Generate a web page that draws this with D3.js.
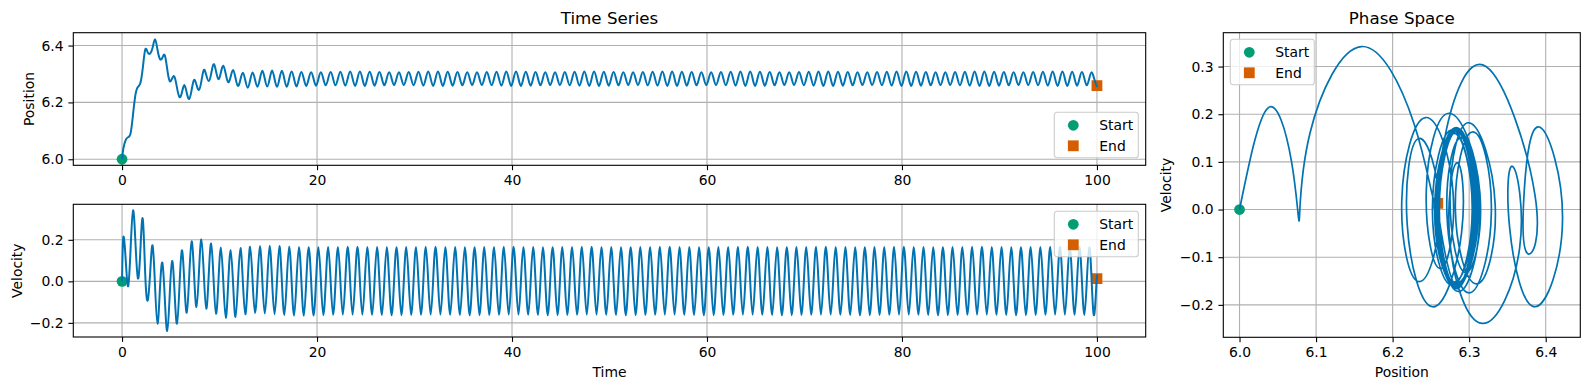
<!DOCTYPE html>
<meta charset="utf-8">
<style>
body{ margin:0; background:#fff; }
text{ font-family:"DejaVu Sans", sans-serif; fill:#000; }
</style>
<body>
<script src="https://d3js.org/d3.v7.min.js"></script>
<script>

// samples are taken every quarter cycle, starting at t0
var t0 = 0.13, dt = 0.2502;

// first 14 cycles, one value per quarter cycle
var transientPos = [6.037,6.068,6.078,6.092, 6.159,6.228,6.255,6.268, 6.322,6.386,6.376,6.372,
  6.392,6.422,6.386,6.353, 6.357,6.366,6.317,6.275, 6.284,6.290,6.252,6.219,
  6.234,6.261,6.234,6.212, 6.243,6.279,6.262,6.244, 6.274,6.314,6.296,6.275,
  6.300,6.334,6.310,6.282, 6.305,6.329,6.300,6.271, 6.290,6.314,6.286,6.258,
  6.280,6.304,6.278,6.252, 6.278,6.305,6.280,6.255];
var transientVel = [0.213,0.100,-0.023,0.160, 0.342,0.180,0.014,0.150, 0.300,0.030,-0.092,0.040,
  0.173,-0.020,-0.204,-0.040, 0.090,-0.080,-0.239,-0.070, 0.098,-0.050,-0.204,-0.030,
  0.149,0.000,-0.151,0.020, 0.193,0.035,-0.124,0.040, 0.202,0.035,-0.132,0.025,
  0.182,0.010,-0.156,0.000, 0.163,-0.005,-0.175,-0.010, 0.151,-0.010,-0.172,-0.005,
  0.160,0.000,-0.159,0.000, 0.167,0.000,-0.152,0.000];

// steady part, one value per cycle
var cycVelMax = [.170,.172,.170,.168,.166,.164,.164,.165,.166,.167,
  .167,.166,.165,.164,.164,.165,.166,.167,.167,.166,
  .165,.164,.164,.165,.166,.167,.167,.166,.165,.164,
  .164,.165,.166,.167,.167,.166,.165,.164,.164,.165,
  .166,.167,.167,.166,.165,.164,.164,.165,.166,.167,
  .167,.166,.165,.164,.164,.165,.166,.167,.167,.166,
  .165,.164,.164,.165,.166,.167,.167,.166,.165,.164,
  .164,.165,.166,.167,.167,.166,.165,.164,.164,.165,
  .166,.167,.167,.166,.165,.164];
var cycVelMin = [-.155,-.158,-.162,-.165,-.166,-.165,-.163,-.161,-.160,-.160,
  -.160,-.161,-.162,-.163,-.163,-.162,-.161,-.160,-.160,-.161,
  -.162,-.163,-.163,-.162,-.161,-.160,-.160,-.161,-.162,-.163,
  -.163,-.162,-.161,-.160,-.160,-.161,-.162,-.163,-.163,-.162,
  -.161,-.160,-.160,-.161,-.162,-.163,-.163,-.162,-.161,-.160,
  -.160,-.161,-.162,-.163,-.163,-.162,-.161,-.160,-.160,-.161,
  -.162,-.163,-.163,-.162,-.161,-.160,-.160,-.161,-.162,-.163,
  -.163,-.162,-.161,-.160,-.160,-.161,-.162,-.163,-.163,-.162,
  -.161,-.160,-.160,-.161,-.162,-.163];
var cycPosMax = [6.311,6.312,6.311,6.309,6.307,6.306,6.306,6.307,6.308,6.309,
  6.309,6.308,6.307,6.306,6.306,6.307,6.308,6.309,6.309,6.308,
  6.307,6.306,6.306,6.307,6.308,6.309,6.309,6.308,6.307,6.306,
  6.306,6.307,6.308,6.309,6.309,6.308,6.307,6.306,6.306,6.307,
  6.308,6.309,6.309,6.308,6.307,6.306,6.306,6.307,6.308,6.309,
  6.309,6.308,6.307,6.306,6.306,6.307,6.308,6.309,6.309,6.308,
  6.307,6.306,6.306,6.307,6.308,6.309,6.309,6.308,6.307,6.306,
  6.306,6.307,6.308,6.309,6.309,6.308,6.307,6.306,6.306,6.307,
  6.308,6.309,6.309,6.308,6.307,6.306];
var cycPosMin = [6.256,6.255,6.255,6.256,6.258,6.259,6.260,6.260,6.259,6.258,
  6.258,6.259,6.260,6.261,6.261,6.260,6.259,6.258,6.258,6.259,
  6.260,6.261,6.261,6.260,6.259,6.258,6.258,6.259,6.260,6.261,
  6.261,6.260,6.259,6.258,6.258,6.259,6.260,6.261,6.261,6.260,
  6.259,6.258,6.258,6.259,6.260,6.261,6.261,6.260,6.259,6.258,
  6.258,6.259,6.260,6.261,6.261,6.260,6.259,6.258,6.258,6.259,
  6.260,6.261,6.261,6.260,6.259,6.258,6.258,6.259,6.260,6.261,
  6.261,6.260,6.259,6.258,6.258,6.259,6.260,6.261,6.261,6.260,
  6.259,6.258,6.258,6.259,6.260,6.259];
var cycPosMid = [6.283,6.283,6.283,6.283,6.283,6.283,6.283,6.284,6.284,6.284,
  6.284,6.284,6.284,6.284,6.284,6.284,6.284,6.284,6.284,6.284,
  6.284,6.284,6.284,6.284,6.284,6.284,6.284,6.284,6.284,6.284,
  6.284,6.284,6.284,6.284,6.284,6.284,6.284,6.284,6.284,6.284,
  6.284,6.284,6.284,6.284,6.284,6.284,6.284,6.284,6.284,6.284,
  6.284,6.284,6.284,6.284,6.284,6.284,6.284,6.284,6.284,6.284,
  6.284,6.284,6.284,6.284,6.284,6.284,6.284,6.284,6.284,6.284,
  6.284,6.284,6.284,6.284,6.284,6.284,6.284,6.284,6.284,6.284,
  6.284,6.284,6.284,6.284,6.284,6.284];

var startPt = {t:0, pos:6.0, vel:0};
var endPt = {t:100, pos:6.259, vel:0.013};

var timeTicks = [0,20,40,60,80,100];
var posTicks = [6.0,6.2,6.4];
var velTicks = [-0.2,0.0,0.2];
var phasePosTicks = [6.0,6.1,6.2,6.3,6.4];
var phaseVelTicks = [-0.2,-0.1,0.0,0.1,0.2,0.3];

var lineColor = "#0173b2", startColor = "#029e73", endColor = "#d55e00";

// build the sample list
var samples = [startPt];
transientPos.forEach(function(p,i){
  samples.push({t:t0+dt*i, pos:p, vel:transientVel[i]});
});
var n0 = transientPos.length;
cycVelMax.forEach(function(v,c){
  var j = n0 + 4*c;
  samples.push({t:t0+dt*j,     pos:cycPosMid[c], vel:v});
  samples.push({t:t0+dt*(j+1), pos:cycPosMax[c], vel:0});
  samples.push({t:t0+dt*(j+2), pos:cycPosMid[c], vel:cycVelMin[c]});
  samples.push({t:t0+dt*(j+3), pos:cycPosMin[c], vel:0});
});
samples.push(endPt);

var svg = d3.select("body").append("svg").attr("width",1589).attr("height",390);

function padded(ext){ var m=(ext[1]-ext[0])*0.05; return [ext[0]-m, ext[1]+m]; }
var tDom = padded(d3.extent(samples, d=>d.t));
var pDom = padded([6.0, 6.424]);
var vDom = padded([-0.239, 0.342]);

var boxPos = {x0:73.3, x1:1145.7, y0:32.7, y1:165.3};
var boxVel = {x0:73.3, x1:1145.7, y0:204.3, y1:337};
var boxPh  = {x0:1223.3, x1:1580.3, y0:32.7, y1:337.3};

function makeAxes(b, xs, ys, xt, yt){
  var g = svg.append("g");
  g.append("g").selectAll("line").data(xt).join("line")
    .attr("x1",d=>xs(d)).attr("x2",d=>xs(d)).attr("y1",b.y0).attr("y2",b.y1)
    .attr("stroke","#b0b0b0").attr("stroke-width",1.1);
  g.append("g").selectAll("line").data(yt).join("line")
    .attr("y1",d=>ys(d)).attr("y2",d=>ys(d)).attr("x1",b.x0).attr("x2",b.x1)
    .attr("stroke","#b0b0b0").attr("stroke-width",1.1);
  return g;
}
function finishAxes(b, xs, ys, xt, yt, xf, yf){
  svg.append("rect").attr("x",b.x0).attr("y",b.y0)
    .attr("width",b.x1-b.x0).attr("height",b.y1-b.y0)
    .attr("fill","none").attr("stroke","#000").attr("stroke-width",1.1);
  var ax = svg.append("g").attr("transform","translate(0,"+b.y1+")")
    .call(d3.axisBottom(xs).tickValues(xt).tickFormat(xf).tickSize(4.9).tickPadding(4.9));
  var ay = svg.append("g").attr("transform","translate("+b.x0+",0)")
    .call(d3.axisLeft(ys).tickValues(yt).tickFormat(yf).tickSize(4.9).tickPadding(4.9));
  [ax,ay].forEach(function(a){
    a.select(".domain").remove();
    a.attr("font-size",13.9).attr("font-family","DejaVu Sans");
    a.selectAll(".tick line").attr("stroke-width",1.1);
  });
}

function markers(xs, ys, a, b){
  svg.append("circle").attr("cx",xs(a[0])).attr("cy",ys(a[1])).attr("r",5.4).attr("fill",startColor);
  svg.append("rect").attr("x",xs(b[0])-5.4).attr("y",ys(b[1])-5.4)
    .attr("width",10.8).attr("height",10.8).attr("fill",endColor);
}

function legend(x, y){
  var g = svg.append("g").attr("transform","translate("+x+","+y+")");
  g.append("rect").attr("width",84).attr("height",45.4).attr("rx",2.8)
    .attr("fill","#fff").attr("fill-opacity",0.8)
    .attr("stroke","#cccccc").attr("stroke-width",1.1);
  g.append("circle").attr("cx",19).attr("cy",13).attr("r",5.4).attr("fill",startColor);
  g.append("rect").attr("x",13.6).attr("y",28.1).attr("width",10.8).attr("height",10.8).attr("fill",endColor);
  g.append("text").attr("x",45).attr("y",13).attr("dy","0.36em").attr("font-size",13.9).text("Start");
  g.append("text").attr("x",45).attr("y",33.5).attr("dy","0.36em").attr("font-size",13.9).text("End");
}

var f1 = d3.format(".1f"), fd = d3.format("d");

// position vs time
var xT1 = d3.scaleLinear().domain(tDom).range([boxPos.x0,boxPos.x1]);
var yP = d3.scaleLinear().domain(pDom).range([boxPos.y1,boxPos.y0]);
makeAxes(boxPos, xT1, yP, timeTicks, posTicks);
markers(xT1, yP, [startPt.t,startPt.pos], [endPt.t,endPt.pos]);
svg.append("path").datum(samples)
  .attr("d", d3.line().x(d=>xT1(d.t)).y(d=>yP(d.pos)).curve(d3.curveNatural))
  .attr("fill","none").attr("stroke",lineColor).attr("stroke-width",2);
finishAxes(boxPos, xT1, yP, timeTicks, posTicks, fd, f1);
legend(1054.3, 112.3);

// velocity vs time
var xT2 = d3.scaleLinear().domain(tDom).range([boxVel.x0,boxVel.x1]);
var yV = d3.scaleLinear().domain(vDom).range([boxVel.y1,boxVel.y0]);
makeAxes(boxVel, xT2, yV, timeTicks, velTicks);
markers(xT2, yV, [startPt.t,startPt.vel], [endPt.t,endPt.vel]);
svg.append("path").datum(samples)
  .attr("d", d3.line().x(d=>xT2(d.t)).y(d=>yV(d.vel)).curve(d3.curveNatural))
  .attr("fill","none").attr("stroke",lineColor).attr("stroke-width",2);
finishAxes(boxVel, xT2, yV, timeTicks, velTicks, fd, f1);
legend(1054.3, 211.3);

// phase space
var xPh = d3.scaleLinear().domain(pDom).range([boxPh.x0,boxPh.x1]);
var yPh = d3.scaleLinear().domain(vDom).range([boxPh.y1,boxPh.y0]);
makeAxes(boxPh, xPh, yPh, phasePosTicks, phaseVelTicks);
markers(xPh, yPh, [startPt.pos,startPt.vel], [endPt.pos,endPt.vel]);
svg.append("path").datum(samples)
  .attr("d", d3.line().x(d=>xPh(d.pos)).y(d=>yPh(d.vel)).curve(d3.curveNatural))
  .attr("fill","none").attr("stroke",lineColor).attr("stroke-width",1.7);
finishAxes(boxPh, xPh, yPh, phasePosTicks, phaseVelTicks, f1, f1);
legend(1230.3, 39.3);

// titles and labels
svg.append("text").attr("x",609.5).attr("y",24).attr("text-anchor","middle").attr("font-size",16.7).text("Time Series");
svg.append("text").attr("x",1401.8).attr("y",24).attr("text-anchor","middle").attr("font-size",16.7).text("Phase Space");
svg.append("text").attr("x",609.5).attr("y",377).attr("text-anchor","middle").attr("font-size",13.9).text("Time");
svg.append("text").attr("x",1401.8).attr("y",377).attr("text-anchor","middle").attr("font-size",13.9).text("Position");
svg.append("text").attr("transform","translate(34,99) rotate(-90)").attr("text-anchor","middle").attr("font-size",13.9).text("Position");
svg.append("text").attr("transform","translate(21.5,270.7) rotate(-90)").attr("text-anchor","middle").attr("font-size",13.9).text("Velocity");
svg.append("text").attr("transform","translate(1171,185) rotate(-90)").attr("text-anchor","middle").attr("font-size",13.9).text("Velocity");

</script>
</body>
</html>
